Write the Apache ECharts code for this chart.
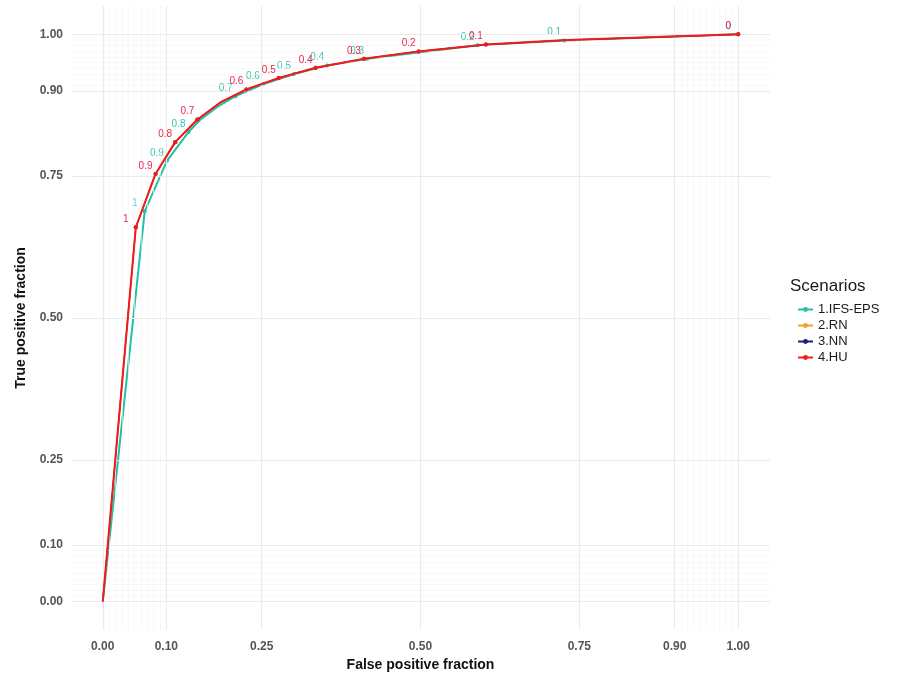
<!DOCTYPE html>
<html>
<head>
<meta charset="utf-8">
<script src="https://cdn.jsdelivr.net/npm/echarts@6/dist/echarts.min.js"></script>
<style>html,body{margin:0;padding:0;background:#fff;}#c{width:905px;height:675px;}</style>
</head>
<body>
<div id="c"></div>
<script>
// ---- data ----
const scenarioNames = ['1.IFS-EPS', '2.RN', '3.NN', '4.HU'];
const ifsFpr = [0, 0.066, 0.101, 0.135, 0.153, 0.180, 0.209, 0.252, 0.301, 0.353, 0.416, 0.590, 0.726, 1.0];
const ifsTpr = [0, 0.688, 0.777, 0.828, 0.849, 0.872, 0.891, 0.912, 0.930, 0.945, 0.957, 0.981, 0.989, 1.0];
const ifsLab = ['', '1', '0.9', '0.8', '', '', '0.7', '0.6', '0.5', '0.4', '0.3', '0.2', '0.1', '0'];
const rnFpr = [0, 0.052, 0.083, 0.114, 0.149, 0.185, 0.226, 0.277, 0.335, 0.411, 0.497, 0.603, 0.730, 1.0];
const rnTpr = [0, 0.660, 0.754, 0.810, 0.850, 0.880, 0.903, 0.923, 0.941, 0.957, 0.970, 0.982, 0.990, 1.0];
const rnLab = ['', '1', '0.9', '0.8', '0.7', '', '0.6', '0.5', '0.4', '0.3', '0.2', '0.1', '', '0'];
const nnFpr = [0, 0.052, 0.083, 0.114, 0.149, 0.185, 0.226, 0.277, 0.335, 0.411, 0.497, 0.603, 0.730, 1.0];
const nnTpr = [0, 0.660, 0.754, 0.810, 0.850, 0.880, 0.903, 0.923, 0.941, 0.957, 0.970, 0.982, 0.990, 1.0];
const nnLab = ['', '1', '0.9', '0.8', '0.7', '', '0.6', '0.5', '0.4', '0.3', '0.2', '0.1', '', '0'];
const huFpr = [0, 0.052, 0.083, 0.114, 0.149, 0.185, 0.226, 0.277, 0.335, 0.411, 0.497, 0.603, 0.730, 1.0];
const huTpr = [0, 0.660, 0.754, 0.810, 0.850, 0.880, 0.903, 0.923, 0.941, 0.957, 0.970, 0.982, 0.990, 1.0];
const huLab = ['', '1', '0.9', '0.8', '0.7', '', '0.6', '0.5', '0.4', '0.3', '0.2', '0.1', '', '0'];
const majorBreaks = [0, 0.1, 0.25, 0.5, 0.75, 0.9, 1];
const majorLabels = ['0.00', '0.10', '0.25', '0.50', '0.75', '0.90', '1.00'];
const minorBreaks = [0.01,0.02,0.03,0.04,0.05,0.06,0.07,0.08,0.09,0.91,0.92,0.93,0.94,0.95,0.96,0.97,0.98,0.99];

const colors = ['#22c0a6', '#f5a020', '#1b1f7a', '#f41a1a'];
const labelColors = ['#3cc4ae', '#f5a020', '#1b1f7a', '#e8284a'];
const labelShown = [true, false, false, true];
const lineWidths = [2, 1.2, 1.2, 2];

function build(fpr, tpr, lab) {
  return fpr.map((x, i) => {
    const item = { value: [x, tpr[i], lab[i]] };
    if (lab[i] === '') { item.symbolSize = 0; }
    return item;
  });
}
const sets = [[ifsFpr, ifsTpr, ifsLab], [rnFpr, rnTpr, rnLab], [nnFpr, nnTpr, nnLab], [huFpr, huTpr, huLab]];

const lineSeries = sets.map((s, k) => ({
  name: scenarioNames[k],
  type: 'line',
  data: build(s[0], s[1], s[2]),
  symbol: 'circle',
  symbolSize: 4,
  showAllSymbol: true,
  lineStyle: { width: lineWidths[k], color: colors[k] },
  itemStyle: { color: colors[k] },
  z: 3 + k,
  label: {
    show: labelShown[k],
    position: 'top',
    distance: 1,
    offset: [-10, 0],
    fontSize: 10,
    fontWeight: 'normal',
    fontFamily: 'Liberation Sans, Arial, sans-serif',
    color: labelColors[k],
    textBorderWidth: 0,
    formatter: p => p.value[2]
  },
  emphasis: { disabled: true },
  animation: false
}));

const gridSeries = {
  type: 'line',
  data: [],
  silent: true,
  z: 1,
  markLine: {
    silent: true,
    symbol: 'none',
    label: { show: false },
    animation: false,
    data: [].concat(
      minorBreaks.map(v => ({ xAxis: v, lineStyle: { color: '#f4f4f4', width: 0.6, type: 'solid' } })),
      minorBreaks.map(v => ({ yAxis: v, lineStyle: { color: '#f4f4f4', width: 0.6, type: 'solid' } })),
      majorBreaks.map(v => ({ xAxis: v, lineStyle: { color: '#ebebeb', width: 1.1, type: 'solid' } })),
      majorBreaks.map(v => ({ yAxis: v, lineStyle: { color: '#ebebeb', width: 1.1, type: 'solid' } }))
    )
  }
};

function fmt(v) {
  for (let i = 0; i < majorBreaks.length; i++) {
    if (Math.abs(majorBreaks[i] - v) < 1e-9) return majorLabels[i];
  }
  return '';
}

const chart = echarts.init(document.getElementById('c'), null, { renderer: 'canvas' });
chart.setOption({
  animation: false,
  backgroundColor: '#ffffff',
  title: {
    text: 'Scenarios',
    left: 785, top: 273,
    textStyle: { fontSize: 17, fontWeight: 'normal', color: '#1a1a1a', fontFamily: 'Liberation Sans, Arial, sans-serif' }
  },
  legend: {
    data: scenarioNames.map(n => ({ name: n, itemStyle: { borderWidth: 0 } })),
    orient: 'vertical',
    left: 792, top: 298,
    itemWidth: 15, itemHeight: 6,
    itemGap: 3,
    textStyle: { fontSize: 13, lineHeight: 13, color: '#1a1a1a', fontFamily: 'Liberation Sans, Arial, sans-serif' },
    selectedMode: false
  },
  grid: { left: 71, right: 135, top: 6, bottom: 45, containLabel: false, outerBoundsMode: 'none' },
  xAxis: {
    type: 'value', min: -0.05, max: 1.05,
    name: 'False positive fraction', nameLocation: 'middle', nameGap: 27,
    nameTextStyle: { fontSize: 14, fontWeight: 'bold', color: '#111', fontFamily: 'Liberation Sans, Arial, sans-serif' },
    axisLine: { show: false }, axisTick: { show: false, customValues: majorBreaks },
    splitLine: { show: false },
    axisLabel: { customValues: majorBreaks, formatter: fmt, margin: 11, fontSize: 12, fontWeight: 'bold', color: '#555', fontFamily: 'Liberation Sans, Arial, sans-serif' }
  },
  yAxis: {
    type: 'value', min: -0.05, max: 1.05,
    name: 'True positive fraction', nameLocation: 'middle', nameGap: 43, nameRotate: 90,
    nameTextStyle: { fontSize: 14, fontWeight: 'bold', color: '#111', fontFamily: 'Liberation Sans, Arial, sans-serif' },
    axisLine: { show: false }, axisTick: { show: false, customValues: majorBreaks },
    splitLine: { show: false },
    axisLabel: { customValues: majorBreaks, formatter: fmt, margin: 8, fontSize: 12, fontWeight: 'bold', color: '#555', fontFamily: 'Liberation Sans, Arial, sans-serif' }
  },
  series: [gridSeries].concat(lineSeries)
});
</script>
</body>
</html>
